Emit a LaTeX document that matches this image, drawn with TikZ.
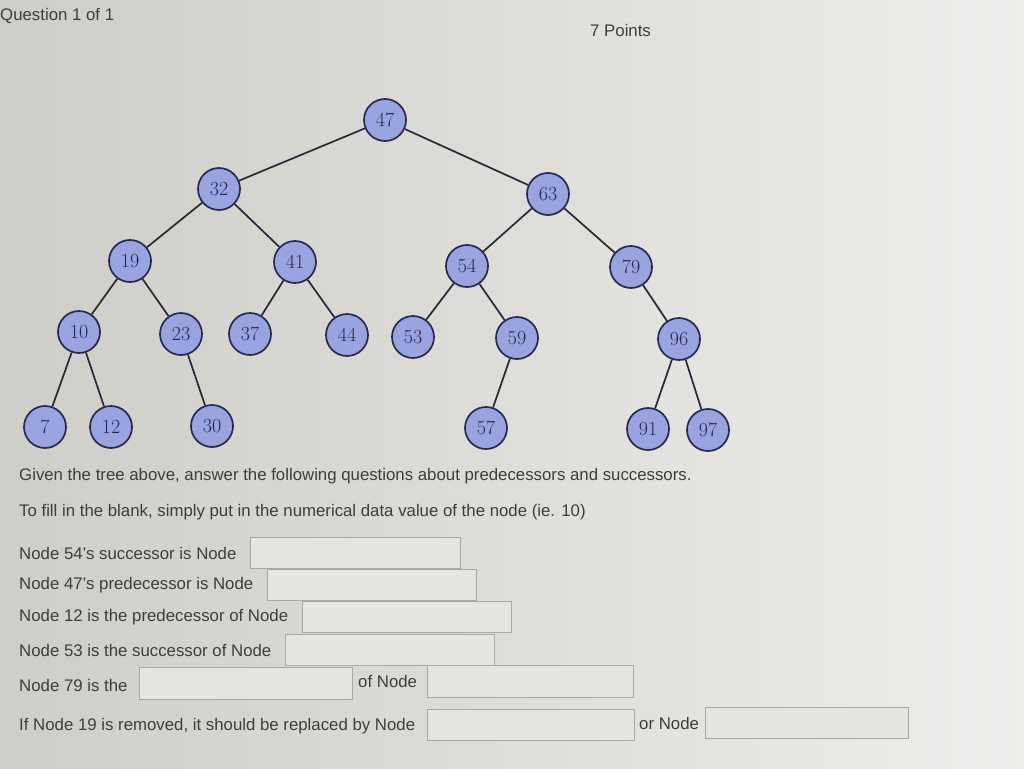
\documentclass[tikz,border=0pt]{standalone}
\usepackage{fontspec}
\setsansfont{Liberation Sans}
\definecolor{bgL}{RGB}{206,205,199}
\definecolor{bgR}{RGB}{237,237,235}
\definecolor{nodefill}{RGB}{152,163,224}
\definecolor{nodeline}{RGB}{38,42,78}
\definecolor{edgecol}{RGB}{40,40,55}
\definecolor{txt}{RGB}{62,62,62}
\definecolor{boxline}{RGB}{168,168,165}
\definecolor{boxfill}{RGB}{228,228,225}
\begin{document}
\begin{tikzpicture}[x=1pt,y=-1pt,
  tn/.style={circle,draw=nodeline,line width=1.7pt,fill=nodefill,minimum size=42pt,inner sep=0pt,
    font=\fontsize{20}{20}\selectfont,text=nodeline},
  edge/.style={draw=edgecol,line width=1.7pt},
  lbl/.style={anchor=west,inner sep=0pt,font=\sffamily\fontsize{16.8}{17}\selectfont,text=txt},
  blank/.style={draw=boxline,fill=boxfill,line width=0.8pt}]
\useasboundingbox (0,0) rectangle (1024,768);
\shade[left color=bgL,right color=bgR] (0,0) rectangle (1024,768);
% tree nodes
\node[tn] (n47) at (385,120) {47};
\node[tn] (n32) at (219,189) {32};
\node[tn] (n63) at (548,194) {63};
\node[tn] (n19) at (130,261) {19};
\node[tn] (n41) at (295,262) {41};
\node[tn] (n54) at (467,266) {54};
\node[tn] (n79) at (631,267) {79};
\node[tn] (n10) at (79,332) {10};
\node[tn] (n23) at (181,334) {23};
\node[tn] (n37) at (250,334) {37};
\node[tn] (n44) at (347,335) {44};
\node[tn] (n53) at (413,337) {53};
\node[tn] (n59) at (517,338) {59};
\node[tn] (n96) at (679,339) {96};
\node[tn] (n7) at (45,427) {7};
\node[tn] (n12) at (111,427) {12};
\node[tn] (n30) at (212,426) {30};
\node[tn] (n57) at (486,428) {57};
\node[tn] (n91) at (648,429) {91};
\node[tn] (n97) at (708,430) {97};
% edges
\foreach \a/\b in {n47/n32,n47/n63,n32/n19,n32/n41,n19/n10,n19/n23,n10/n7,n10/n12,n23/n30,
  n41/n37,n41/n44,n63/n54,n63/n79,n54/n53,n54/n59,n59/n57,n79/n96,n96/n91,n96/n97}
  \draw[edge] (\a) -- (\b);
% header
\node[lbl] (q) at (0,16) {Question 1 of 1};
\node[lbl] (pts) at (590,30) {7 Points};
% text
\node[lbl] (t1) at (19,476) {Given the tree above, answer the following questions about predecessors and successors.};
\node[lbl] (t2) at (19,512) {To fill in the blank, simply put in the numerical data value of the node (ie. 10)};
\node[lbl] (l1) at (19,553) {Node 54's successor is Node};
\draw[blank] (250,537) rectangle (460,568);
\node[lbl] (l2) at (19,585) {Node 47's predecessor is Node};
\draw[blank] (267,569) rectangle (476,600);
\node[lbl] (l3) at (19,617) {Node 12 is the predecessor of Node};
\draw[blank] (302,601) rectangle (511,632);
\node[lbl] (l4) at (19,650) {Node 53 is the successor of Node};
\draw[blank] (285,634) rectangle (494,665);
\node[lbl] (l5) at (19,685) {Node 79 is the};
\draw[blank] (139,667) rectangle (352,699);
\node[lbl] (l5b) at (358,681) {of Node};
\draw[blank] (427,665) rectangle (633,697);
\node[lbl] (l6) at (19,726) {If Node 19 is removed, it should be replaced by Node};
\draw[blank] (427,709) rectangle (634,740);
\node[lbl] (l6b) at (639,723) {or Node};
\draw[blank] (705,707) rectangle (908,738);
\end{tikzpicture}
\end{document}
